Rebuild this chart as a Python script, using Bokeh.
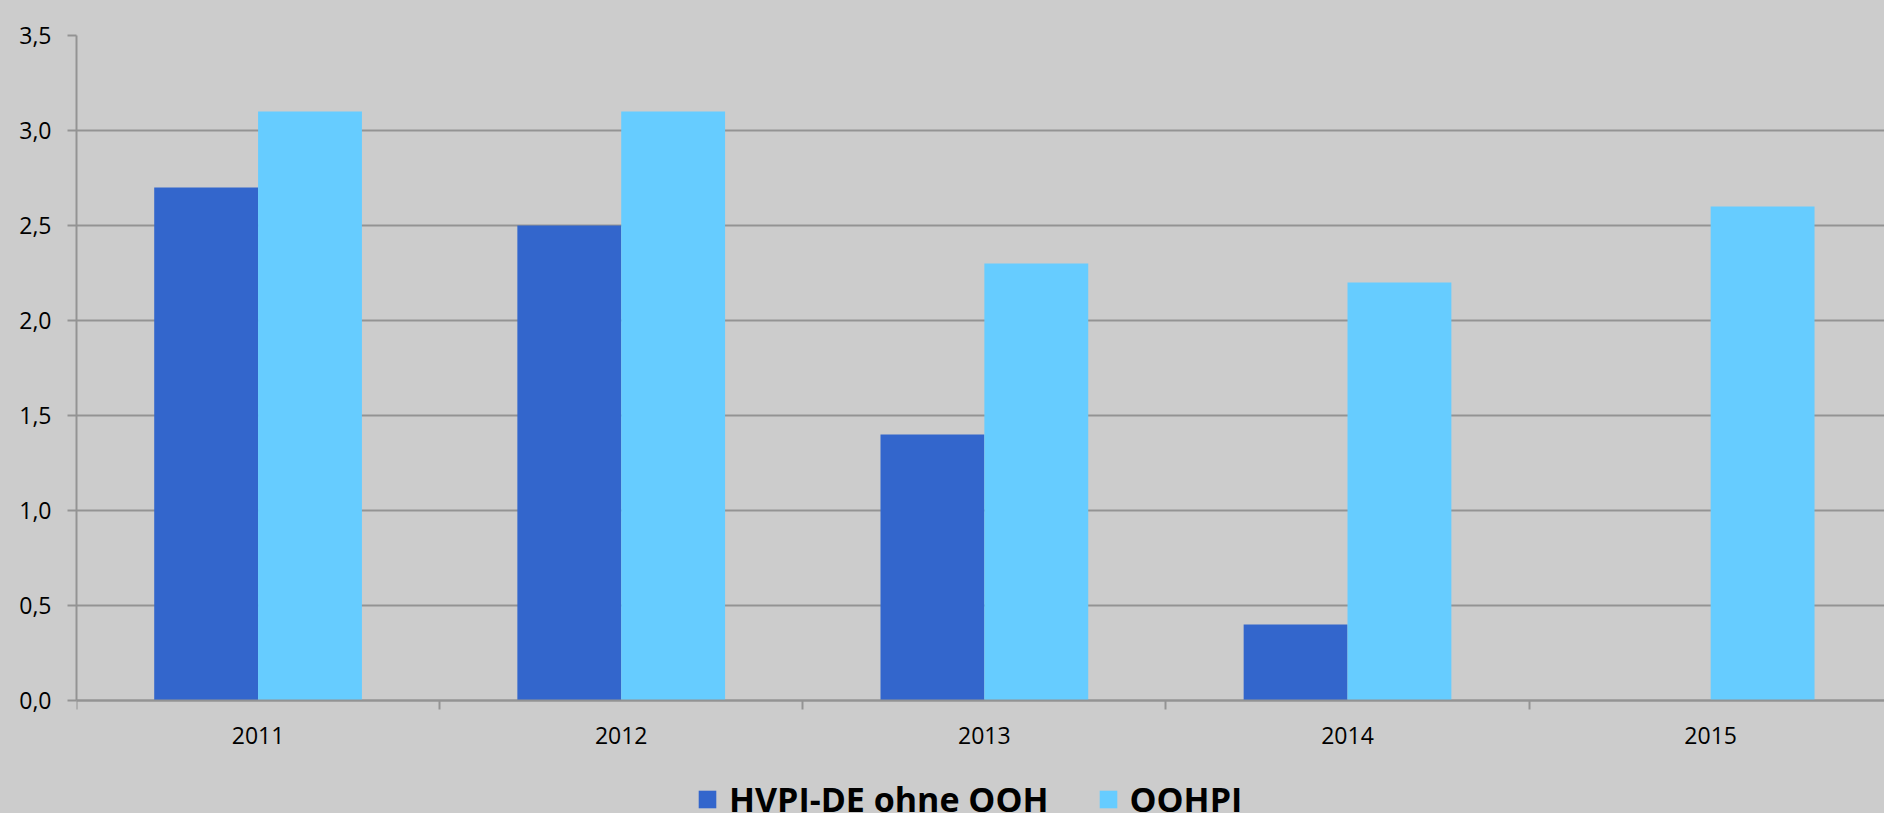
from bokeh.plotting import figure
from bokeh.models import (Range1d, FixedTicker, CustomJSTickFormatter, Legend, LegendItem,
                          ColumnDataSource)
from bokeh.transform import dodge
from bokeh.embed import file_html
from bokeh.resources import INLINE

# ---- data ----
years = ["2011", "2012", "2013", "2014", "2015"]
hvpi_ohne_ooh = [2.7, 2.5, 1.4, 0.4, float("nan")]
oohpi = [3.1, 3.1, 2.3, 2.2, 2.6]
y_ticks = [0.0, 0.5, 1.0, 1.5, 2.0, 2.5, 3.0, 3.5]
series_names = ["HVPI-DE ohne OOH", "OOHPI"]

BG = "#cccccc"
GRID = "#939393"
FONT = "Open Sans"

src = ColumnDataSource(dict(x=list(range(len(years))), hvpi=hvpi_ohne_ooh, oohpi=oohpi))

# frame spans down to the bottom of the page; the x axis sits at y = 0
p = figure(width=1884, height=813, output_backend="svg", toolbar_location=None,
           x_range=Range1d(-0.5, 4.4787), y_range=Range1d(-0.594737, 3.5),
           min_border_left=76, min_border_right=0, min_border_top=35, min_border_bottom=0,
           background_fill_color=BG, border_fill_color=BG, outline_line_color=None)

bw = 0.286
r1 = p.vbar(x=dodge("x", -bw / 2, range=p.x_range), top="hvpi", width=bw, source=src,
            fill_color="#3366cc", line_color=None)
r2 = p.vbar(x=dodge("x", bw / 2, range=p.x_range), top="oohpi", width=bw, source=src,
            fill_color="#66ccff", line_color=None)

# y axis
p.yaxis.ticker = FixedTicker(ticks=y_ticks)
p.yaxis.bounds = (0, 3.5)
p.yaxis.formatter = CustomJSTickFormatter(code="return tick.toFixed(1).replace('.', ',');")
p.yaxis.axis_line_color = GRID
p.yaxis.axis_line_width = 2
p.yaxis.major_tick_line_color = GRID
p.yaxis.major_tick_line_width = 2
p.yaxis.major_tick_out = 9
p.yaxis.major_tick_in = 0
p.yaxis.minor_tick_line_color = None
p.yaxis.major_label_standoff = 16
p.yaxis.major_label_text_font = FONT
p.yaxis.major_label_text_font_size = "23px"
p.yaxis.major_label_text_color = "#000000"

# x axis
p.xaxis.fixed_location = 0
p.xaxis.ticker = FixedTicker(ticks=list(range(len(years))),
                             minor_ticks=[i - 0.5 for i in range(len(years) + 1)])
p.xaxis.major_label_overrides = {i: y for i, y in enumerate(years)}
p.xaxis.axis_line_color = GRID
p.xaxis.axis_line_width = 2
p.xaxis.major_tick_line_color = None
p.xaxis.major_tick_out = 0
p.xaxis.major_tick_in = 0
p.xaxis.minor_tick_line_color = GRID
p.xaxis.minor_tick_line_width = 2
p.xaxis.minor_tick_out = 9
p.xaxis.minor_tick_in = 0
p.xaxis.major_label_standoff = 17
p.xaxis.major_label_text_font = FONT
p.xaxis.major_label_text_font_size = "23px"
p.xaxis.major_label_text_color = "#000000"

p.xgrid.grid_line_color = None
p.ygrid.ticker = FixedTicker(ticks=y_ticks)
p.ygrid.grid_line_color = GRID
p.ygrid.grid_line_width = 2

legend = Legend(items=[LegendItem(label=series_names[0], renderers=[r1]),
                       LegendItem(label=series_names[1], renderers=[r2])],
                orientation="horizontal", location=(620, -9),
                glyph_width=22, glyph_height=22, label_standoff=11, spacing=48,
                padding=0, margin=0, border_line_color=None, background_fill_alpha=0,
                label_text_font=FONT, label_text_font_size="34px",
                label_text_font_style="bold", label_text_color="#000000")
p.add_layout(legend, "center")

html = file_html(p, INLINE)
html = html.replace("</head>",
                    "<style>html,body{background:#cccccc;margin:0;padding:0;overflow:hidden;}</style></head>", 1)
open("out.html", "w").write(html)
